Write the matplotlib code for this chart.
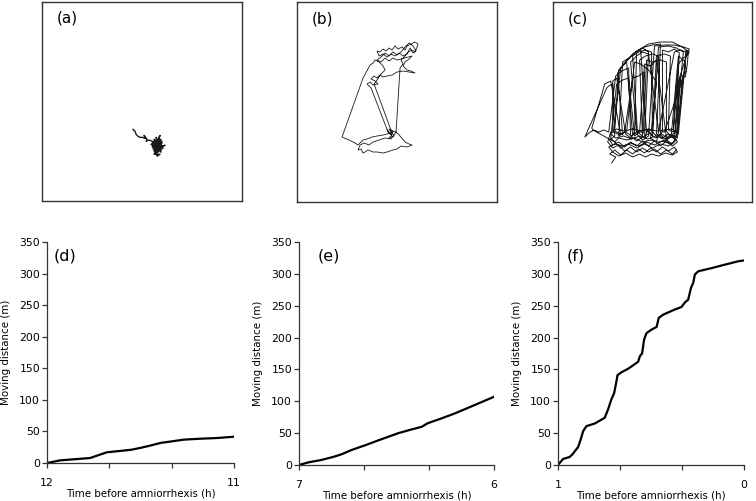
import matplotlib
matplotlib.use("Agg")
import matplotlib.pyplot as plt

plt.rcParams['font.family'] = ['DejaVu Sans']

# ---- trajectories (box units 0-200, y up) ----
traj_a = [(91, 72), (93, 70), (94, 67), (96, 65), (98, 64), (100, 64), (103, 63),
          (102, 66), (105, 62), (104, 60), (106, 61), (108, 61), (110, 60),
          (112, 58), (118, 54), (111, 52), (119, 57), (113, 61), (117, 50),
          (110, 55), (120, 60), (114, 48), (116, 62), (118, 66), (116, 60),
          (121, 53), (112, 50), (115, 57), (109, 57), (119, 51), (113, 54),
          (117, 59), (111, 60), (120, 55), (114, 52), (123, 56), (116, 54),
          (112, 47), (118, 47), (115, 45), (114, 50), (119, 62), (110, 58),
          (116, 52), (113, 57), (118, 60), (112, 55), (117, 53), (114, 59),
          (120, 58), (111, 54), (116, 49), (115, 55), (113, 51), (118, 56),
          (112, 62), (119, 49), (114, 64), (116, 57), (117, 51), (113, 47),
          (115, 53)]

traj_b = [(93, 69), (90, 72), (95, 67), (92, 64), (97, 66), (94, 71), (99, 70),
          (103, 66), (108, 60), (112, 58), (115, 57), (110, 55), (104, 56),
          (100, 53), (96, 52), (90, 50), (86, 49), (80, 50), (76, 50), (71, 52),
          (68, 50), (66, 49), (64, 53), (61, 52), (63, 57), (67, 59), (72, 57),
          (76, 60), (82, 62), (88, 64), (94, 63), (97, 67), (99, 70),
          (103, 134), (106, 138), (104, 142), (108, 146), (111, 150), (115, 152),
          (118, 150), (120, 155), (121, 158), (118, 160), (114, 158), (110, 156),
          (108, 152), (105, 155), (101, 153), (98, 156), (95, 152), (92, 154),
          (89, 151), (86, 153), (83, 150), (80, 151), (82, 146), (86, 148),
          (90, 145), (94, 148), (98, 146), (102, 149), (106, 146), (110, 148),
          (113, 154), (116, 149), (119, 151), (116, 156), (112, 159), (108, 155),
          (104, 150), (100, 147), (96, 150), (92, 146), (88, 149), (84, 145),
          (80, 142), (84, 140), (88, 144), (92, 141), (96, 144), (100, 142),
          (115, 146), (112, 143), (108, 140), (106, 136), (110, 132), (114, 131),
          (118, 129), (112, 130), (106, 131), (100, 130), (95, 127), (90, 126),
          (86, 125), (83, 127), (80, 124), (77, 126), (74, 123), (78, 121),
          (81, 118), (76, 117), (73, 120), (70, 118), (74, 114),
          (91, 70), (94, 67), (96, 71), (92, 73), (95, 69),
          (77, 118), (80, 122), (84, 128), (88, 132), (86, 136), (82, 140),
          (78, 142), (76, 139), (73, 137), (66, 124), (45, 65),
          (52, 62), (58, 59), (61, 57), (66, 62), (70, 63), (75, 65), (80, 66),
          (86, 67), (90, 68), (93, 69)]

traj_c = [(59, 39), (63, 45), (57, 48), (62, 52), (68, 47), (74, 52), (80, 48),
          (86, 53), (92, 49), (98, 54), (104, 50), (110, 55), (116, 51),
          (122, 55), (125, 50), (120, 47), (113, 49), (106, 46), (99, 48),
          (93, 45), (87, 48), (80, 45), (73, 49), (66, 46), (60, 50), (56, 55),
          (62, 58), (70, 56), (78, 59), (86, 56), (94, 60), (102, 57), (110, 61),
          (118, 58), (124, 62), (119, 65), (111, 63), (103, 66), (95, 63),
          (87, 66), (79, 63), (71, 66), (63, 64), (58, 68), (62, 71),
          (66, 132), (72, 139), (78, 145), (84, 151), (92, 155), (100, 157),
          (108, 158), (104, 68), (110, 64), (116, 68), (122, 64),
          (128, 127), (133, 125), (135, 138), (136, 150), (130, 155), (122, 157),
          (112, 157), (102, 156), (96, 66), (90, 62), (85, 67),
          (80, 146), (86, 150), (93, 152), (99, 150), (100, 70), (105, 65),
          (110, 70), (110, 152), (116, 150), (122, 153), (127, 149),
          (123, 70), (118, 66), (114, 71), (114, 140), (108, 142), (100, 140),
          (94, 142), (91, 69), (86, 71), (80, 67), (74, 140), (70, 136),
          (65, 129), (70, 67), (64, 70), (60, 72), (60, 118), (56, 116),
          (54, 114), (32, 65), (36, 69), (41, 72), (46, 70), (51, 72), (56, 70),
          (63, 126), (69, 131), (76, 134), (78, 66), (84, 61), (90, 65),
          (87, 142), (93, 146), (100, 148), (106, 146), (108, 67), (114, 62),
          (120, 66), (125, 64), (130, 125), (134, 131), (132, 141), (126, 146),
          (119, 68), (114, 64), (104, 142), (98, 136), (92, 138), (87, 70),
          (82, 66), (76, 124), (70, 122), (64, 118), (58, 64), (62, 60),
          (40, 72), (39, 74), (52, 118), (58, 121), (68, 68), (74, 71),
          (82, 140), (88, 138), (96, 132), (100, 126), (104, 120), (98, 64),
          (104, 60), (122, 150), (128, 152), (134, 150), (126, 68), (121, 72),
          (124, 118), (130, 122), (112, 70), (106, 72), (96, 148), (90, 150),
          (84, 146), (78, 140), (84, 70), (90, 72), (92, 130), (86, 126),
          (80, 124), (72, 70), (66, 66), (70, 140), (76, 144), (86, 152),
          (96, 158), (108, 160), (120, 160), (128, 156), (137, 153), (135, 149),
          (126, 120), (125, 72), (122, 60), (116, 56), (108, 58), (100, 54),
          (92, 58), (84, 54), (76, 58), (68, 54), (62, 60), (66, 64), (74, 62),
          (82, 64), (90, 60), (98, 62), (106, 60), (114, 62), (120, 58),
          (124, 66), (128, 120), (131, 150), (124, 154), (116, 156), (106, 155),
          (100, 66), (95, 72), (92, 64), (96, 150), (90, 154), (84, 150),
          (82, 70), (78, 64), (73, 68), (64, 124), (60, 121), (62, 66), (57, 62),
          (60, 57), (66, 60), (72, 55), (78, 60), (84, 56), (90, 61), (96, 56),
          (102, 61), (108, 56), (114, 61), (120, 56), (125, 60), (121, 67),
          (115, 64), (109, 68), (103, 64), (97, 69), (91, 65), (85, 70),
          (79, 66), (73, 70), (67, 67), (61, 70), (68, 134), (74, 141),
          (80, 148), (88, 153), (94, 70), (100, 73), (104, 146), (112, 148),
          (118, 146), (116, 72), (121, 70), (126, 138), (131, 144), (135, 147),
          (137, 150), (134, 152), (125, 70), (119, 73), (112, 72), (104, 71),
          (96, 73), (88, 71), (80, 73), (72, 71), (64, 73), (58, 70), (55, 60),
          (60, 54), (66, 57), (72, 51), (78, 55), (84, 50), (90, 54), (96, 50),
          (102, 53), (108, 48), (114, 52), (120, 48), (124, 52)]

# ---- cumulative moving distance (m) vs time before amniorrhexis (h) ----
d_t = [12.0, 11.93, 11.84, 11.77, 11.72, 11.68, 11.63, 11.55, 11.50, 11.45,
       11.39, 11.34, 11.27, 11.18, 11.09, 11.0]
d_v = [0, 4.2, 6.3, 7.9, 13, 17, 18.5, 21, 24, 27.5, 32, 34, 37, 38.5, 39.6, 41.7]

e_t = [7.0, 6.95, 6.885, 6.82, 6.78, 6.73, 6.66, 6.59, 6.54, 6.49, 6.42, 6.37,
       6.34, 6.27, 6.20, 6.115, 6.0]
e_v = [0, 4.2, 7.9, 13, 17, 23.6, 31, 39, 44.5, 50, 56, 60, 65.5, 73, 81, 92, 107]

f_t = [1.0, 0.973, 0.937, 0.919, 0.910, 0.892, 0.878, 0.865, 0.847, 0.803,
       0.749, 0.731, 0.713, 0.698, 0.686, 0.680, 0.659, 0.623, 0.569, 0.560,
       0.548, 0.537, 0.524, 0.497, 0.470, 0.458, 0.434, 0.372, 0.336, 0.318,
       0.300, 0.285, 0.273, 0.264, 0.246, 0.174, 0.102, 0.031, 0.0]
f_v = [0, 9.4, 12.6, 17.8, 21.5, 28, 40, 53, 61, 65, 74, 87, 103, 113, 131, 141,
       145.5, 151, 162, 170.6, 175, 197, 207, 212.5, 216.6, 231, 236, 244, 248,
       255, 259.5, 278, 285.7, 299, 304, 309, 314.5, 319.7, 321]

fig = plt.figure(figsize=(7.56, 5.01), dpi=100)

top_boxes = [[0.0556, 0.5988, 0.2646, 0.3972],
             [0.3929, 0.5968, 0.2646, 0.3992],
             [0.7315, 0.5968, 0.2632, 0.3992]]
trajs = [(traj_a, '(a)', 1.0), (traj_b, '(b)', 0.6), (traj_c, '(c)', 0.7)]
for rect, (pts, lab, lw) in zip(top_boxes, trajs):
    ax = fig.add_axes(rect)
    tx, ty = zip(*pts)
    ax.plot(tx, ty, color='#1a1a1a', lw=lw)
    ax.set_xlim(0, 200)
    ax.set_ylim(0, 200)
    ax.set_xticks([])
    ax.set_yticks([])
    for s in ax.spines.values():
        s.set_color('#333333')
        s.set_linewidth(1.0)
    ax.text(0.075, 0.955, lab, transform=ax.transAxes, fontsize=11,
            va='top', ha='left')

bot_boxes = [[0.0622, 0.0758, 0.2474, 0.4411],
             [0.3955, 0.0719, 0.2579, 0.4451],
             [0.7381, 0.0719, 0.2460, 0.4451]]
series = [(d_t, d_v, 12, 11, '(d)', 0.035), (e_t, e_v, 7, 6, '(e)', 0.097),
          (f_t, f_v, 1, 0, '(f)', 0.048)]
for rect, (t, v, t0, t1, lab, lx) in zip(bot_boxes, series):
    ax = fig.add_axes(rect)
    ax.plot(t, v, color='black', lw=1.6)
    ax.set_xlim(t0, t1)
    ax.set_ylim(0, 350)
    ax.set_yticks(range(0, 351, 50))
    step = (t1 - t0) / 3
    ax.set_xticks([t0, t0 + step, t0 + 2 * step, t1])
    ax.set_xticklabels([str(t0), '', '', str(t1)])
    ax.spines['top'].set_visible(False)
    ax.spines['right'].set_visible(False)
    for s in ('left', 'bottom'):
        ax.spines[s].set_color('#333333')
        ax.spines[s].set_linewidth(0.9)
    ax.tick_params(direction='out', length=3.5, width=0.9, color='#333333',
                   labelsize=7.8, pad=1.5)
    ax.tick_params(axis='x', pad=7)
    ax.set_xlabel('Time before amniorrhexis (h)', fontsize=7.4, labelpad=0.5)
    ax.set_ylabel('Moving distance (m)', fontsize=7.4, labelpad=6)
    ax.text(lx, 0.97, lab, transform=ax.transAxes, fontsize=11.5,
            va='top', ha='left')

fig.savefig('out.png', dpi=100)
